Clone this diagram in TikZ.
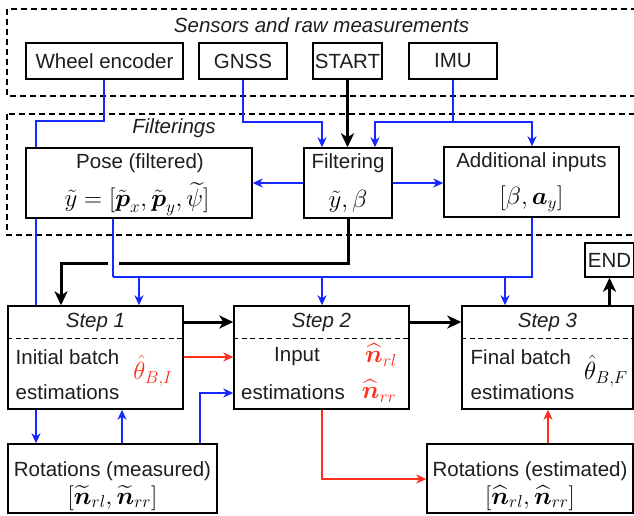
\documentclass[tikz,border=0pt]{standalone}
\usepackage{amsmath}
\usepackage[no-math]{fontspec}
\setmainfont{Liberation Sans}
\usetikzlibrary{arrows.meta}
\definecolor{cblue}{RGB}{20,40,255}
\definecolor{cred}{RGB}{255,45,30}
\definecolor{ink}{RGB}{30,30,30}
\tikzset{
  box/.style={draw=black, line width=1.4pt, fill=white, inner sep=0pt, text=ink,
    font=\fontsize{20.5}{24}\selectfont},
  frame/.style={draw=black, line width=1.3pt, dash pattern=on 6pt off 4pt},
  divider/.style={draw=black, line width=1.2pt, dash pattern=on 5pt off 3.5pt},
  lbl/.style={inner sep=0pt, text=ink, font=\fontsize{20.5}{24}\selectfont},
  ttl/.style={inner sep=0pt, text=ink, font=\fontsize{20.5}{24}\selectfont\itshape},
  mth/.style={inner sep=0pt, text=black, font=\fontsize{24}{28}\selectfont},
  bl/.style={draw=cblue, line width=1.6pt},
  bla/.style={bl, -{Stealth[length=10pt,width=9pt,inset=3pt]}},
  rd/.style={draw=cred, line width=1.6pt, -{Stealth[length=10pt,width=9pt,inset=3pt]}},
  bk/.style={draw=black, line width=3pt, -{Stealth[length=14pt,width=13pt,inset=4pt]}},
}
\begin{document}
\begin{tikzpicture}[x=1pt,y=-1pt]
\useasboundingbox (0,0) rectangle (634,515);
\clip (0,0) rectangle (634,515);

% group frames
\draw[frame] (7,9) rectangle (700,96);
\draw[frame] (7,114) rectangle (700,235);
\node[ttl] (sensT) at (321.5,25) {Sensors and raw measurements};
\node[ttl] (filtT) at (174,128) {Filterings};

% coordinates of bends
\coordinate (w1) at (104,121);
\coordinate (w2) at (36,121);
\coordinate (g1) at (243,122);
\coordinate (g2) at (322,122);
\coordinate (i1) at (453,122);
\coordinate (i2) at (375,122);
\coordinate (i3) at (532,122);
\coordinate (k1) at (348,263);
\coordinate (k2) at (61,263);
\coordinate (jL) at (113,277);
\coordinate (jR) at (532,277);
\coordinate (a1) at (139,277);
\coordinate (a2) at (322,277);
\coordinate (a3) at (505,277);
\coordinate (xu) at (122,0);
\coordinate (b1) at (200,393);
\coordinate (r1) at (322,479);
\coordinate (xr) at (548,0);

% wheel encoder line runs behind the pose box
\draw[bl] (104,79) -- (w1) -- (w2) -- (36,306);

% sensors
\node[box, minimum width=157pt, minimum height=36pt] (wheel) at (104.5,61) {Wheel encoder};
\node[box, minimum width=88pt, minimum height=36pt] (gnss) at (243,61) {GNSS};
\node[box, minimum width=69pt, minimum height=36pt] (start) at (347.5,61) {START};
\node[box, minimum width=88pt, minimum height=36pt] (imu) at (453,61) {IMU};

% filtering stage
\node[box, minimum width=226pt, minimum height=70pt] (pose) at (139,183) {};
\node[lbl] (poseT) at (140,163) {Pose (filtered)};
\node[mth, font=\fontsize{27}{30}\selectfont] (poseM) at (137,199) {$\tilde{y}=[\tilde{\boldsymbol{p}}_x,\tilde{\boldsymbol{p}}_y,\widetilde{\psi}]$};

\node[box, minimum width=88pt, minimum height=70pt] (filt) at (348,183) {};
\node[lbl] (filtL) at (348,163) {Filtering};
\node[mth, font=\fontsize{25}{28}\selectfont] (filtM) at (348,201) {$\tilde{y},\beta$};

\node[box, minimum width=175pt, minimum height=70pt] (addl) at (531.5,182) {};
\node[lbl] (addlT) at (531.5,162) {Additional inputs};
\node[mth] (addlM) at (531.5,199) {$[\beta,\boldsymbol{a}_y]$};

% steps
\node[box, minimum width=175pt, minimum height=103pt] (step1) at (95.5,357.5) {};
\node[box, minimum width=175pt, minimum height=103pt] (step2) at (321.5,357.5) {};
\node[box, minimum width=171pt, minimum height=103pt] (step3) at (547.5,357.5) {};
\draw[divider] (step1.north west) ++(0,33.5) -- ++(175,0);
\draw[divider] (step2.north west) ++(0,33.5) -- ++(175,0);
\draw[divider] (step3.north west) ++(0,33.5) -- ++(171,0);

\node[ttl] (s1t) at (95.5,322) {Step 1};
\node[ttl] (s2t) at (321.5,322) {Step 2};
\node[ttl] (s3t) at (547.5,322) {Step 3};

\node[lbl, anchor=west] (s1a) at (15.5,357) {Initial batch};
\node[lbl, anchor=west] (s1b) at (15.5,392) {estimations};
\node[mth, text=cred] (s1m) at (153,371) {$\hat{\theta}_{B,I}$};

\node[lbl] (s2a) at (297,357) {Input};
\node[lbl] (s2b) at (293,392) {estimations};
\node[mth, text=cred] (s2m) at (381,355) {$\widehat{\boldsymbol{n}}_{rl}$};
\node[mth, text=cred] (s2n) at (379,391) {$\widehat{\boldsymbol{n}}_{rr}$};

\node[lbl, anchor=west] (s3a) at (470.5,357) {Final batch};
\node[lbl, anchor=west] (s3b) at (470.5,392) {estimations};
\node[mth] (s3m) at (606,371) {$\hat{\theta}_{B,F}$};

\node[box, minimum width=49pt, minimum height=34pt] (endb) at (609.5,260) {END};

% rotations
\node[box, minimum width=209pt, minimum height=69pt] (rotm) at (112.5,478.5) {};
\node[lbl] (rotmT) at (112.5,471) {Rotations (measured)};
\node[mth] (rotmM) at (112.5,498) {$[\widetilde{\boldsymbol{n}}_{rl},\widetilde{\boldsymbol{n}}_{rr}]$};

\node[box, minimum width=206pt, minimum height=69pt] (rote) at (530,478.5) {};
\node[lbl] (roteT) at (530,471) {Rotations (estimated)};
\node[mth] (roteM) at (530,498) {$[\widehat{\boldsymbol{n}}_{rl},\widehat{\boldsymbol{n}}_{rr}]$};

% sensor connectors
\draw[bk] (start.south) -- (start.south |- filt.north);
\draw[bla] (gnss.south) -- (g1) -- (g2) -- (g2 |- filt.north);
\draw[bla] (imu.south) -- (i1) -- (i2) -- (i2 |- filt.north);
\draw[bla] (i1) -- (i3) -- (i3 |- addl.north);

% filtering outputs
\draw[bla] (filt.west) -- (filt.west -| pose.east);
\draw[bla] (filt.east) -- (filt.east -| addl.west);

% main control flow
\draw[bk] (filt.south) -- (k1) -- (k2) -- (k2 |- step1.north);
\draw[bl, preaction={draw=white, line width=11pt, shorten <=34pt, shorten >=9pt}]
  (pose.south -| jL) -- (jL);
\draw[bl] (jL) -- (jR) -- (jR |- addl.south);
\draw[bla] (a1) -- (a1 |- step1.north);
\draw[bla] (a2) -- (a2 |- step2.north);
\draw[bla] (a3) -- (a3 |- step3.north);

\draw[bk] (step1.east |- s1t) -- (step2.west |- s1t);
\draw[bk] (step2.east |- s2t) -- (step3.west |- s2t);
\draw[rd] (step1.east |- s1a) -- (step2.west |- s1a);
\draw[bk] (step3.north -| endb) -- (endb.south);

% rotation loops
\draw[bla] (w2 |- step1.south) -- (w2 |- rotm.north);
\draw[bla] (rotm.north -| xu) -- (step1.south -| xu);
\draw[bla] (rotm.north -| b1) -- (b1) -- (b1 -| step2.west);
\draw[rd] (step2.south -| r1) -- (r1) -- (r1 -| rote.west);
\draw[rd] (rote.north -| xr) -- (step3.south -| xr);
\end{tikzpicture}
\end{document}
